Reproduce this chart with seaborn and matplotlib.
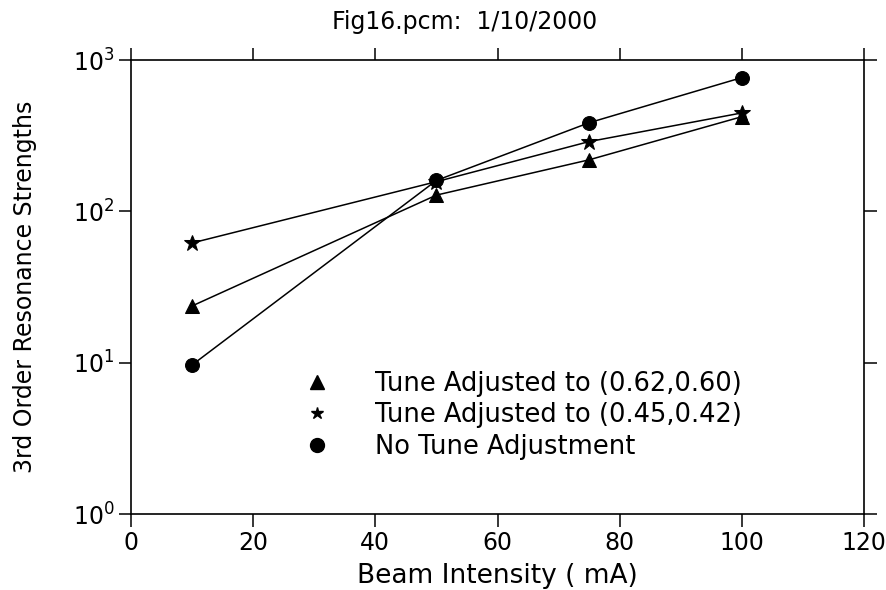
import numpy as np
import pandas as pd
import matplotlib
matplotlib.use("Agg")
import matplotlib.pyplot as plt
from matplotlib.lines import Line2D
from matplotlib.ticker import LogLocator, LogFormatterSciNotation, MultipleLocator, NullLocator
import seaborn as sns

# Beam intensity (mA) and measured 3rd-order resonance strengths
beam_ma = [10, 50, 75, 100]
tune_062_060 = [23.7, 128, 219, 422]
tune_045_042 = [61.8, 157, 289, 447]
no_tune_adj = [9.66, 160, 385, 765]

series_labels = [
    "Tune Adjusted to (0.62,0.60)",
    "Tune Adjusted to (0.45,0.42)",
    "No Tune Adjustment",
]
series_values = [tune_062_060, tune_045_042, no_tune_adj]
series_markers = ["^", "*", "o"]
series_sizes = [10, 12, 10]
legend_sizes = [10, 9, 10]

title_text = "Fig16.pcm:  1/10/2000"
x_label = "Beam Intensity ( mA)"
y_label = "3rd Order Resonance Strengths"

df = pd.concat(
    [pd.DataFrame({"beam": beam_ma, "strength": vals, "series": lab})
     for lab, vals in zip(series_labels, series_values)],
    ignore_index=True,
)

sns.set_theme(style="ticks")
plt.rcParams["font.family"] = ["DejaVu Sans"]
plt.rcParams["mathtext.fontset"] = "dejavusans"

fig = plt.figure(figsize=(8.87, 5.90), dpi=100)
ax = fig.add_axes([131 / 887, 76 / 590, 733 / 887, 454 / 590])

for lab, mk, ms in zip(series_labels, series_markers, series_sizes):
    sns.lineplot(
        data=df[df["series"] == lab], x="beam", y="strength",
        color="black", linewidth=1.1, marker=mk, markersize=ms,
        markeredgecolor="black", markerfacecolor="black",
        ax=ax, legend=False, errorbar=None,
    )

ax.set_yscale("log")
ax.set_xlim(0, 120)
ax.set_ylim(1, 1000)
ax.xaxis.set_major_locator(MultipleLocator(20))
ax.yaxis.set_major_locator(LogLocator(base=10, numticks=10))
ax.yaxis.set_major_formatter(LogFormatterSciNotation())
ax.yaxis.set_minor_locator(NullLocator())

for side in ["left", "right", "top", "bottom"]:
    ax.spines[side].set_visible(True)
    ax.spines[side].set_linewidth(1.2)
    ax.spines[side].set_color("black")

ax.tick_params(axis="both", which="major", direction="out", length=9,
               width=1.1, color="black", labelsize=17, labelcolor="black",
               top=True, right=True, labeltop=False, labelright=False, pad=3)

ax.set_xlabel(x_label, fontsize=19, labelpad=6, color="black")
ax.set_ylabel(y_label, fontsize=17, color="black")
ax.yaxis.set_label_coords(-0.128, 0.5)
fig.text(465 / 887, 0.962, title_text, fontsize=17, ha="center", va="center",
         color="black")

handles = [
    Line2D([], [], linestyle="none", marker=mk, markersize=ms,
           color="black", markerfacecolor="black")
    for mk, ms in zip(series_markers, legend_sizes)
]
leg = ax.legend(handles, series_labels, loc="upper left",
                bbox_to_anchor=(0.222, 0.338), frameon=False, fontsize=18.5,
                handlelength=1.0, handletextpad=1.75, labelspacing=0.22,
                borderaxespad=0)
for t in leg.get_texts():
    t.set_color("black")

ax.set_facecolor("white")
fig.patch.set_facecolor("white")
fig.savefig("out.png", dpi=100)
